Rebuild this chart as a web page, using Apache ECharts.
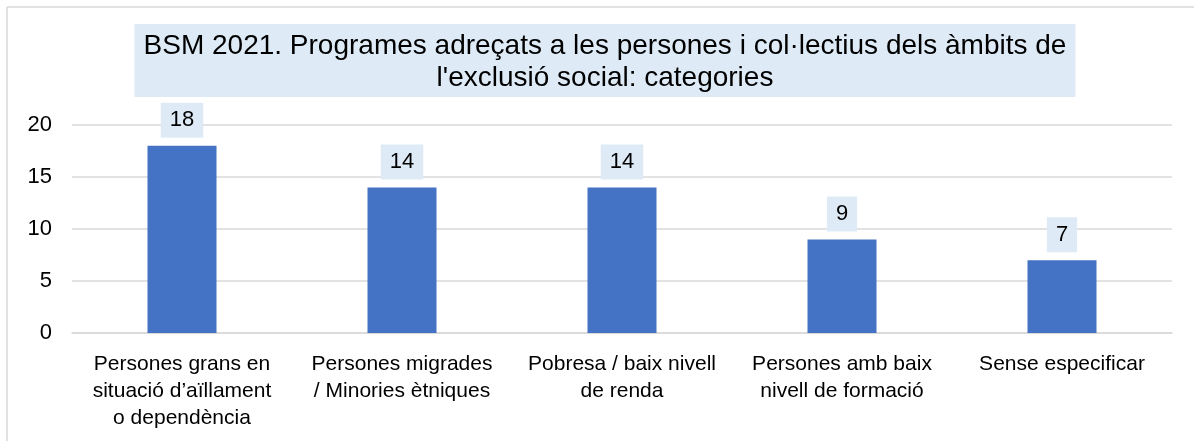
<!DOCTYPE html>
<html lang="ca">
<head>
    <meta charset="UTF-8">
    <title>BSM 2021</title>
    <script src="https://cdn.jsdelivr.net/npm/echarts@6/dist/echarts.min.js"></script>
    <style>
        * { margin: 0; padding: 0; }
        html, body { width: 1194px; height: 441px; background: #fff; }
        #main { width: 1194px; height: 441px; }
    </style>
</head>
<body>
<div id="main"></div>
<script type="text/javascript">
    var titleText = "BSM 2021. Programes adreçats a les persones i col·lectius dels àmbits de\nl'exclusió social: categories";
    var categories = [
        'Persones grans en\nsituació d’aïllament\no dependència',
        'Persones migrades\n/ Minories ètniques',
        'Pobresa / baix nivell\nde renda',
        'Persones amb baix\nnivell de formació',
        'Sense especificar'
    ];
    var values = [18, 14, 14, 9, 7];
    var yTicks = { min: 0, max: 20, interval: 5 };

    var font = '"Liberation Sans", Arial, sans-serif';
    var myChart = echarts.init(document.getElementById('main'));

    var option = {
        backgroundColor: '#fff',
        animation: false,
        title: {
            text: titleText,
            left: 596,
            top: 24,
            textAlign: 'center',
            padding: [6, 9, 3, 9],
            backgroundColor: '#DEEBF7',
            textStyle: {
                fontFamily: font,
                fontSize: 28,
                fontWeight: 'normal',
                color: '#000',
                lineHeight: 32
            }
        },
        // chart frame (top and left edges only visible)
        graphic: [
            { type: 'line', shape: { x1: 7, y1: 7, x2: 1194, y2: 7 }, style: { stroke: '#D9D9D9', lineWidth: 1.5 } },
            { type: 'line', shape: { x1: 7, y1: 7, x2: 7, y2: 441 }, style: { stroke: '#D9D9D9', lineWidth: 1.5 } }
        ],
        grid: {
            left: 72,
            right: 22,
            top: 125,
            bottom: 108
        },
        xAxis: {
            type: 'category',
            data: categories,
            axisLine: { lineStyle: { color: '#D9D9D9', width: 1.5 } },
            axisTick: { show: false },
            axisLabel: {
                interval: 0,
                margin: 18,
                fontFamily: font,
                fontSize: 21,
                lineHeight: 27,
                color: '#000'
            }
        },
        yAxis: {
            type: 'value',
            min: yTicks.min,
            max: yTicks.max,
            interval: yTicks.interval,
            axisLine: { show: false },
            axisTick: { show: false },
            splitLine: { lineStyle: { color: '#D9D9D9', width: 1.5 } },
            axisLabel: {
                margin: 20,
                fontFamily: font,
                fontSize: 22,
                color: '#000'
            }
        },
        series: [
            {
                type: 'bar',
                data: values,
                barWidth: 69,
                itemStyle: { color: '#4472C4' },
                label: {
                    show: true,
                    position: 'top',
                    distance: 8,
                    fontFamily: font,
                    fontSize: 22,
                    lineHeight: 25,
                    color: '#000',
                    backgroundColor: '#DEEBF7',
                    padding: [5, 9, 5, 9]
                }
            }
        ]
    };
    myChart.setOption(option);
</script>
</body>
</html>
